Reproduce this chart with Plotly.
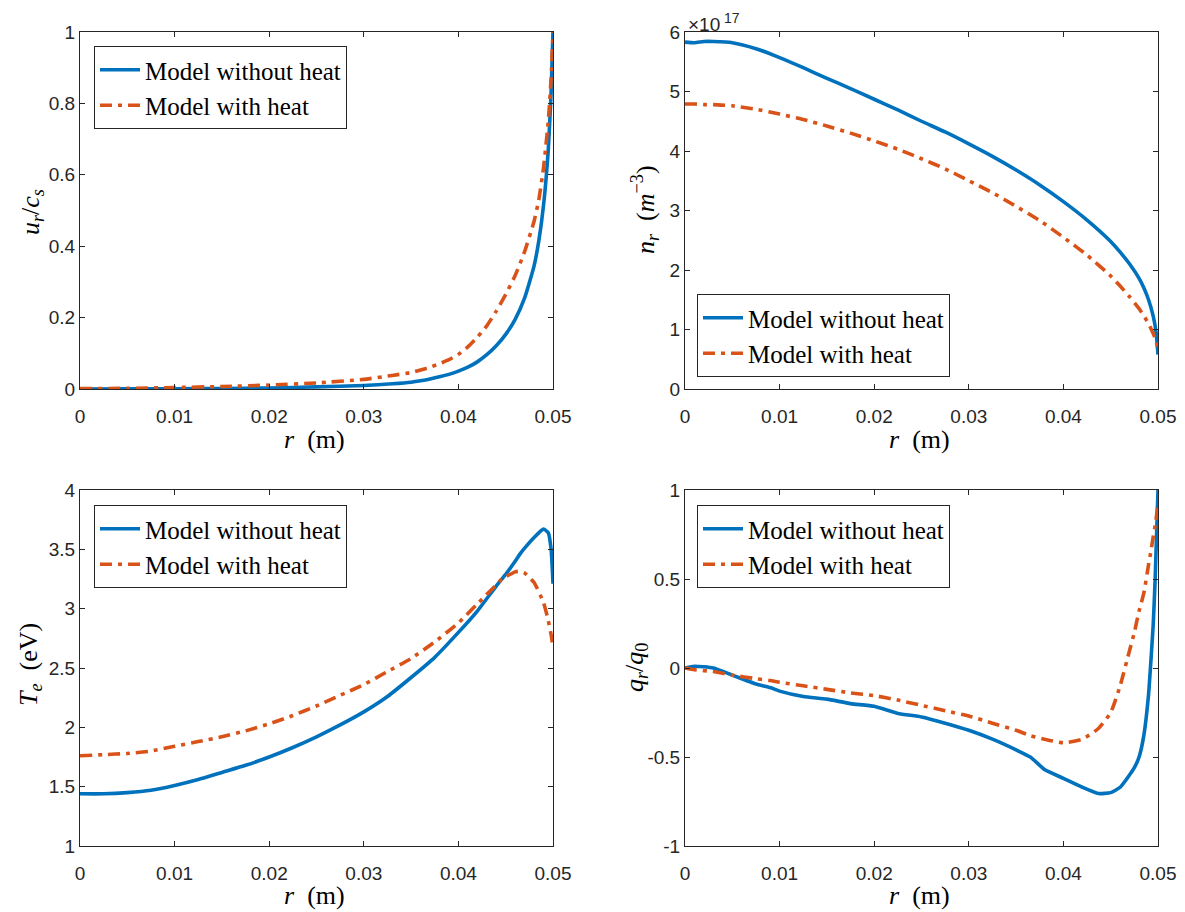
import plotly.graph_objects as go

# ---------------- data ----------------
r_u = [0, 0.005, 0.01, 0.015, 0.02, 0.025, 0.03, 0.033, 0.035, 0.036, 0.037, 0.038, 0.039,
       0.04, 0.041, 0.042, 0.043, 0.044, 0.045, 0.046, 0.047, 0.048, 0.0485, 0.049,
       0.0495, 0.0498, 0.05]
u_noheat = [0, 0.0003, 0.0008, 0.0015, 0.003, 0.006, 0.010, 0.0145, 0.019, 0.023, 0.028, 0.034, 0.041,
            0.050, 0.061, 0.076, 0.096, 0.121, 0.153, 0.195, 0.255, 0.345, 0.415, 0.515,
            0.67, 0.83, 1.0]
u_heat = [0.001, 0.002, 0.004, 0.007, 0.011, 0.017, 0.027, 0.038, 0.046, 0.053, 0.061, 0.071, 0.082,
          0.097, 0.118, 0.145, 0.177, 0.218, 0.265, 0.318, 0.385, 0.47, 0.53, 0.62,
          0.75, 0.87, 1.0]

r_n = [0, 0.001, 0.002, 0.003, 0.005, 0.0075, 0.01, 0.0125, 0.015, 0.0175, 0.02, 0.0225,
       0.025, 0.0275, 0.03, 0.0325, 0.035, 0.0375, 0.04, 0.0425, 0.045, 0.046, 0.047, 0.048,
       0.0485, 0.049, 0.0495, 0.0498, 0.05]
n_noheat = [5.83, 5.82, 5.84, 5.84, 5.82, 5.72, 5.57, 5.40, 5.22, 5.05, 4.87, 4.69,
            4.50, 4.32, 4.12, 3.91, 3.68, 3.43, 3.15, 2.84, 2.48, 2.30, 2.10, 1.86,
            1.70, 1.50, 1.22, 0.95, 0.58]
n_heat = [4.79, 4.79, 4.78, 4.78, 4.76, 4.70, 4.62, 4.53, 4.42, 4.30, 4.17, 4.03,
          3.87, 3.70, 3.50, 3.30, 3.07, 2.83, 2.55, 2.25, 1.90, 1.73, 1.55, 1.35,
          1.23, 1.10, 0.93, 0.80, 0.68]

r_T = [0, 0.0025, 0.005, 0.0075, 0.01, 0.0125, 0.015, 0.0175, 0.02, 0.0225, 0.025, 0.0275,
       0.03, 0.0325, 0.035, 0.0375, 0.04, 0.042, 0.044, 0.0447, 0.045, 0.046, 0.0465,
       0.047, 0.048, 0.049, 0.0495, 0.0498, 0.05]
T_noheat = [1.44, 1.44, 1.45, 1.47, 1.51, 1.56, 1.62, 1.68, 1.75, 1.83, 1.92, 2.02,
            2.13, 2.26, 2.42, 2.59, 2.80, 2.98, 3.19, 3.26, 3.29, 3.40, 3.46,
            3.51, 3.60, 3.67, 3.64, 3.50, 3.21]
T_heat = [1.76, 1.77, 1.78, 1.80, 1.84, 1.88, 1.92, 1.97, 2.03, 2.10, 2.18, 2.27,
          2.36, 2.47, 2.58, 2.72, 2.88, 3.04, 3.20, 3.26, 3.27, 3.31, 3.315,
          3.30, 3.22, 3.05, 2.90, 2.78, 2.68]

r_q = [0, 0.001, 0.003, 0.005, 0.0075, 0.009, 0.01, 0.0125, 0.015, 0.0175, 0.02, 0.0225,
       0.025, 0.0275, 0.03, 0.0325, 0.035, 0.0365, 0.038, 0.04, 0.042, 0.0437, 0.045,
       0.046, 0.047, 0.0475, 0.048, 0.0485, 0.049, 0.0492, 0.0495, 0.0497, 0.05]
q_noheat = [0.0, 0.01, 0.0, -0.04, -0.09, -0.11, -0.13, -0.16, -0.175, -0.20, -0.215, -0.255,
            -0.275, -0.31, -0.35, -0.40, -0.46, -0.50, -0.57, -0.62, -0.67, -0.705, -0.70,
            -0.67, -0.60, -0.56, -0.50, -0.38, -0.15, 0.0, 0.25, 0.50, 1.0]
q_heat = [0.0, -0.01, -0.02, -0.04, -0.06, -0.07, -0.08, -0.10, -0.12, -0.14, -0.155, -0.18,
          -0.21, -0.24, -0.27, -0.31, -0.35, -0.38, -0.40, -0.42, -0.40, -0.34, -0.25,
          -0.10, 0.10, 0.20, 0.32, 0.42, 0.58, 0.64, 0.74, 0.80, 0.92]

x_ticks = [0, 0.01, 0.02, 0.03, 0.04, 0.05]
x_ticktext = ["0", "0.01", "0.02", "0.03", "0.04", "0.05"]
u_ticks = [0, 0.2, 0.4, 0.6, 0.8, 1]
u_ticktext = ["0", "0.2", "0.4", "0.6", "0.8", "1"]
n_ticks = [0, 1, 2, 3, 4, 5, 6]
n_ticktext = ["0", "1", "2", "3", "4", "5", "6"]
T_ticks = [1, 1.5, 2, 2.5, 3, 3.5, 4]
T_ticktext = ["1", "1.5", "2", "2.5", "3", "3.5", "4"]
q_ticks = [-1, -0.5, 0, 0.5, 1]
q_ticktext = ["-1", "-0.5", "0", "0.5", "1"]

names = ["Model without heat", "Model with heat"]

# ---------------- styling ----------------
W, H = 1185, 912
OFF = 8  # page body margin
BLUE = "#0072BD"
ORANGE = "#D95319"
AX = "#262626"
LW = 3.6
DASH = "12px,6px,4px,6px"
SERIF = "Liberation Serif, Times New Roman, serif"
SANS = "Liberation Sans, Arial, Helvetica, sans-serif"

def px_x(p):
    return (p - OFF) / W

def px_y(p):
    return 1 - (p - OFF) / H

xdom_l = [px_x(80), px_x(553)]
xdom_r = [px_x(685), px_x(1158)]
ydom_t = [px_y(389), px_y(32)]
ydom_b = [px_y(846), px_y(490)]

fig = go.Figure()

panels = [
    (r_u, u_noheat, u_heat, "x", "y", "legend"),
    (r_n, n_noheat, n_heat, "x2", "y2", "legend2"),
    (r_T, T_noheat, T_heat, "x3", "y3", "legend3"),
    (r_q, q_noheat, q_heat, "x4", "y4", "legend4"),
]
for rr, a, b, xa, ya, lg in panels:
    fig.add_trace(go.Scatter(x=rr, y=a, mode="lines", name=names[0], xaxis=xa, yaxis=ya,
                             legend=lg, line=dict(color=BLUE, width=LW, shape="spline", smoothing=0.5)))
    fig.add_trace(go.Scatter(x=rr, y=b, mode="lines", name=names[1], xaxis=xa, yaxis=ya,
                             legend=lg, line=dict(color=ORANGE, width=LW, dash=DASH,
                                                  shape="spline", smoothing=0.5)))

def xaxis(dom, anchor):
    return dict(domain=dom, anchor=anchor, range=[0, 0.05], tickvals=x_ticks, ticktext=x_ticktext,
                showline=True, linecolor=AX, linewidth=1, mirror="ticks", ticks="inside",
                ticklen=5, tickcolor=AX, tickwidth=1, showgrid=False, zeroline=False,
                ticklabelstandoff=10,
                tickfont=dict(family=SANS, size=19, color=AX), automargin=False)

def yaxis(dom, anchor, rng, tv, tt):
    return dict(domain=dom, anchor=anchor, range=rng, tickvals=tv, ticktext=tt,
                showline=True, linecolor=AX, linewidth=1, mirror="ticks", ticks="inside",
                ticklen=5, tickcolor=AX, tickwidth=1, showgrid=False, zeroline=False,
                tickfont=dict(family=SANS, size=19, color=AX), automargin=False)

def legend(xp, yp, yanchor="top"):
    return dict(x=px_x(xp), y=px_y(yp), xanchor="left", yanchor=yanchor, xref="paper", yref="paper",
                bgcolor="white", bordercolor=AX, borderwidth=1,
                font=dict(family=SERIF, size=25, color="black"), tracegroupgap=0,
                itemwidth=40)

fig.update_layout(
    width=W, height=H, margin=dict(l=0, r=0, t=0, b=0, autoexpand=False),
    paper_bgcolor="white", plot_bgcolor="white", showlegend=True,
    xaxis=xaxis(xdom_l, "y"), yaxis=yaxis(ydom_t, "x", [0, 1], u_ticks, u_ticktext),
    xaxis2=xaxis(xdom_r, "y2"), yaxis2=yaxis(ydom_t, "x2", [0, 6], n_ticks, n_ticktext),
    xaxis3=xaxis(xdom_l, "y3"), yaxis3=yaxis(ydom_b, "x3", [1, 4], T_ticks, T_ticktext),
    xaxis4=xaxis(xdom_r, "y4"), yaxis4=yaxis(ydom_b, "x4", [-1, 1], q_ticks, q_ticktext),
    legend=legend(94, 46), legend2=legend(697, 377, "bottom"),
    legend3=legend(94, 505), legend4=legend(697, 505),
)

def ann(text, xp, yp, angle=0, size=26, family=SERIF, xanchor="center", yanchor="middle", color="black"):
    fig.add_annotation(text=text, x=px_x(xp), y=px_y(yp), xref="paper", yref="paper",
                       showarrow=False, textangle=angle, xanchor=xanchor, yanchor=yanchor,
                       font=dict(family=family, size=size, color=color))

ann("<i>r</i>  (m)", 314, 440)
ann("<i>r</i>  (m)", 919, 440)
ann("<i>r</i>  (m)", 314, 895)
ann("<i>r</i>  (m)", 919, 895)
ann("<i>u</i><sub><i>r</i></sub>/<i>c</i><sub><i>s</i></sub>", 32, 212, angle=-90)
ann("<i>n</i><sub><i>r</i></sub>  (<i>m</i><sup>\u22123</sup>)", 645, 210, angle=-90)
ann("<i>T</i><sub><i>e</i></sub>  (eV)", 30, 665, angle=-90)
ann("<i>q</i><sub><i>r</i></sub>/<i>q</i><sub>0</sub>", 636, 668, angle=-90)
ann("\u00d710", 686, 24, size=19, family=SANS, xanchor="left", color=AX)
ann("17", 722, 8, size=14, family=SANS, xanchor="left", yanchor="top", color=AX)

fig.write_html("out.html")
